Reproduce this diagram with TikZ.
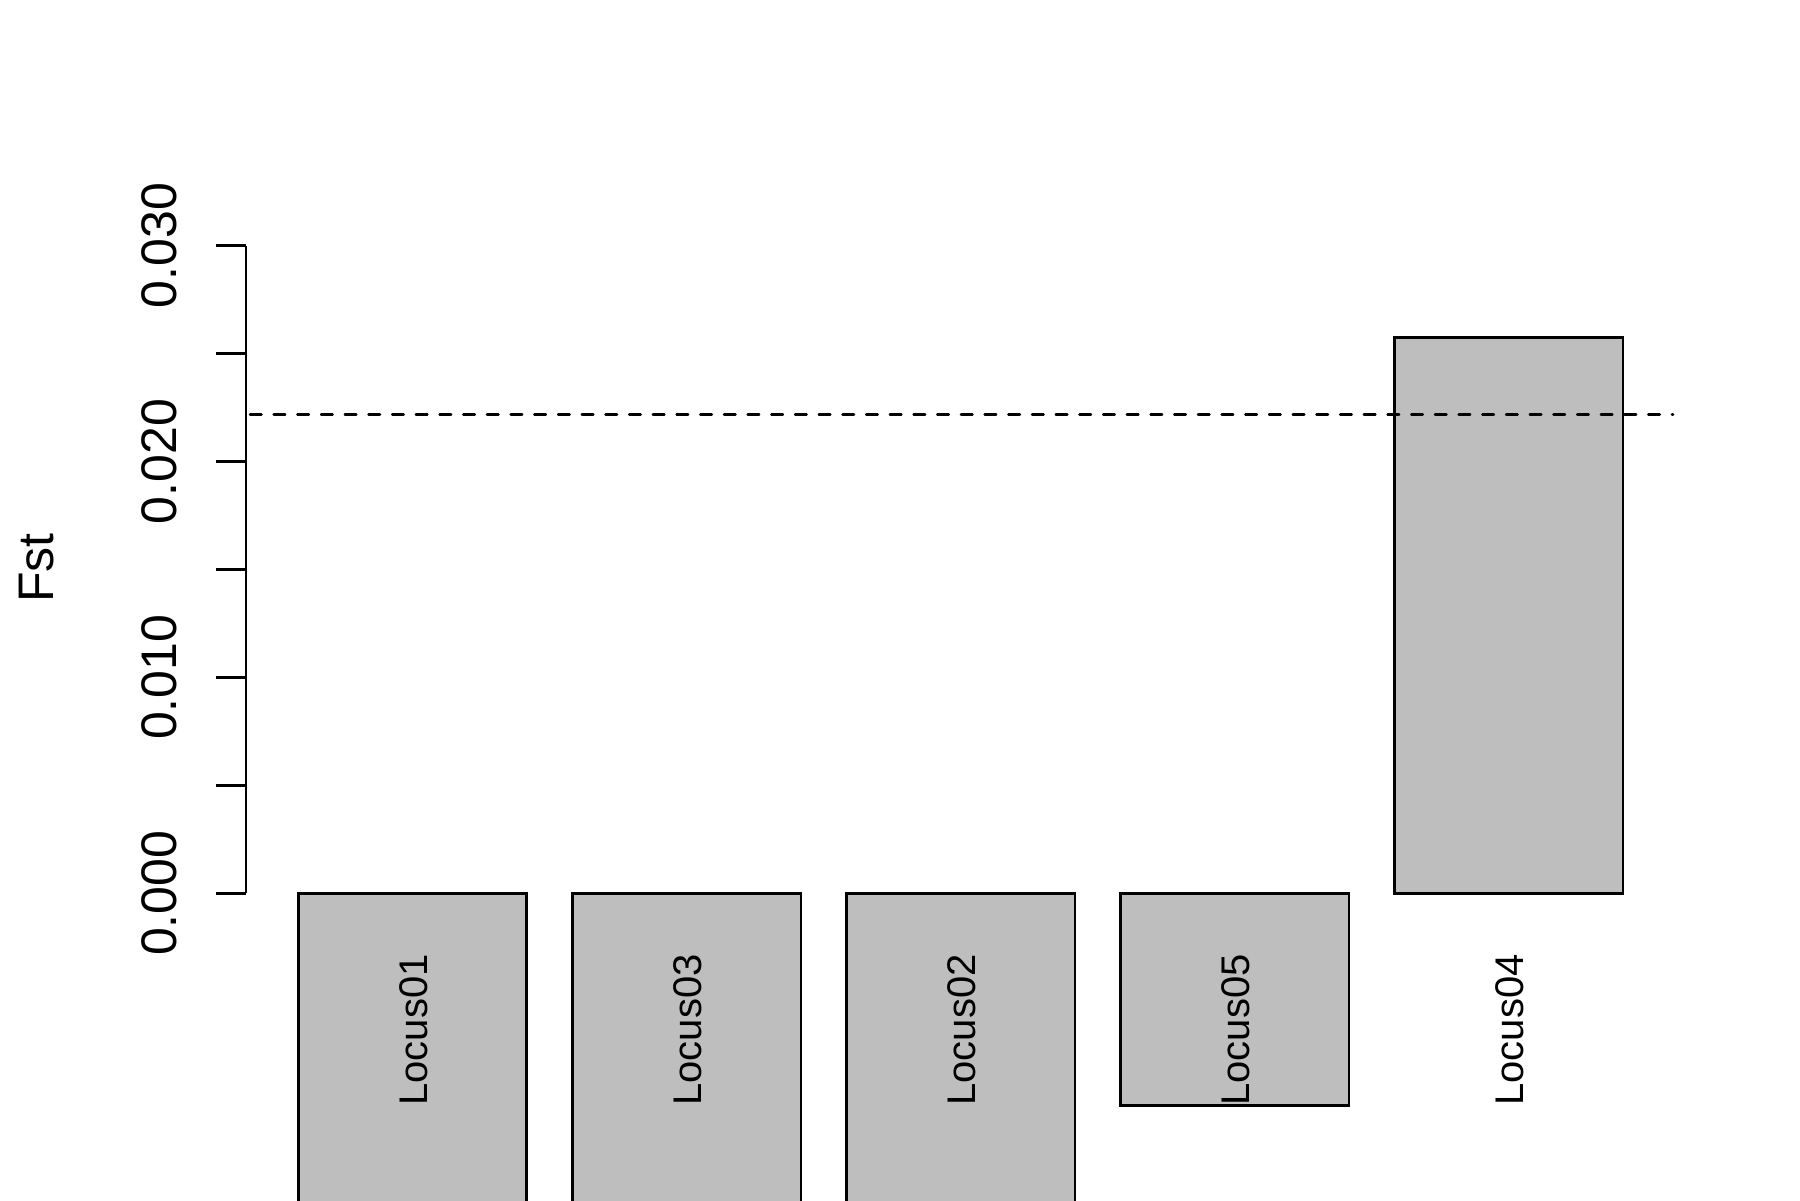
\documentclass[tikz,border=0pt]{standalone}
\usepackage{fontspec}
\setmainfont{Liberation Sans}
\definecolor{barfill}{HTML}{BEBEBE}
\begin{document}
\begin{tikzpicture}[x=0.3pt,y=-0.3pt,line width=0.75pt,
  bar/.style={draw=black,fill=barfill,line join=miter},
  ticklab/.style={font=\fontsize{15}{18}\selectfont,rotate=90,anchor=base,inner sep=0pt},
  namelab/.style={font=\fontsize{12}{14}\selectfont,rotate=90,anchor=base east,inner sep=0pt},
  refline/.style={line cap=round,dash pattern=on 3.45pt off 3.66pt}]
\useasboundingbox (0,0) rectangle (1800,1200);
\clip (0,0) rectangle (1800,1200);
% y axis
\coordinate (axbot) at (246,893.3);
\coordinate (axtop) at (246,245.7);
\draw (axbot) -- (axtop);
\foreach \k in {0,...,6}{
  \draw (216,893.3-\k*107.93) -- (246,893.3-\k*107.93);
}
\node[ticklab] (l0) at (176,893.3) {0.000};
\node[ticklab] (l1) at (176,677.4) {0.010};
\node[ticklab] (l2) at (176,461.6) {0.020};
\node[ticklab] (l3) at (176,245.7) {0.030};
\node[ticklab] (ylab) at (53.3,568) {Fst};
% bars
\draw[bar] (298.3,893.3) rectangle (526.7,1260);
\draw[bar] (572.4,893.3) rectangle (800.8,1260);
\draw[bar] (846.5,893.3) rectangle (1074.9,1260);
\draw[bar] (1120.6,893.3) rectangle (1349.0,1105.5);
\draw[bar] (1394.7,337.3) rectangle (1623.1,893.3);
% reference line
\coordinate (rl) at (250,414.3);
\coordinate (rr) at (1673,414.3);
\draw[refline] (rl) -- (rr);
% bar names
\node[namelab] (n1) at (427.5,953) {Locus01};
\node[namelab] (n2) at (701.6,953) {Locus03};
\node[namelab] (n3) at (975.7,953) {Locus02};
\node[namelab] (n4) at (1249.8,953) {Locus05};
\node[namelab] (n5) at (1523.9,953) {Locus04};
\end{tikzpicture}
\end{document}
